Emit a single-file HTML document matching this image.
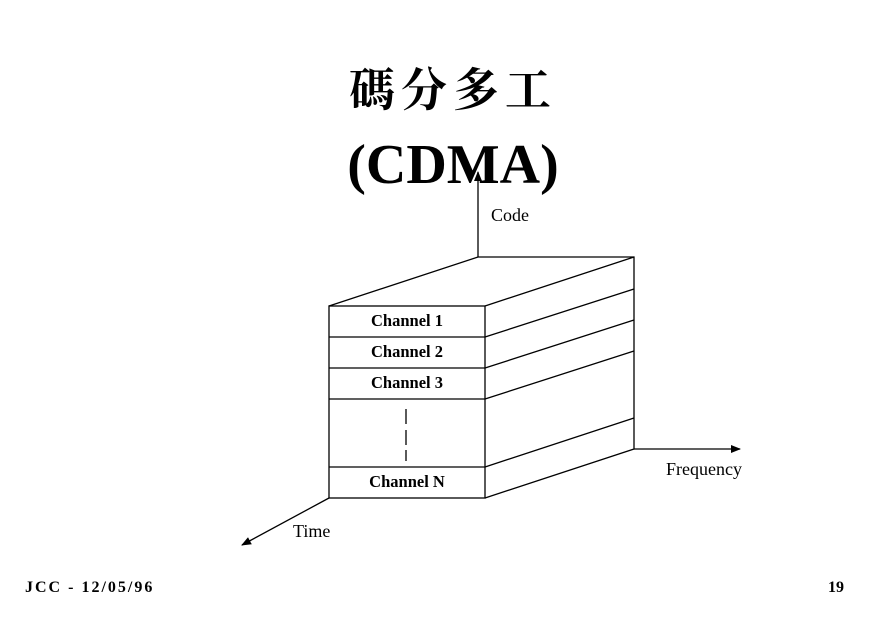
<!DOCTYPE html>
<html><head><meta charset="utf-8"><style>
body{margin:0;width:876px;height:637px;background:#fff;overflow:hidden}
svg{display:block}
</style></head><body>
<svg width="876" height="637" viewBox="0 0 876 637">
<defs><marker id="a" markerWidth="10" markerHeight="8" refX="9" refY="4" orient="auto" markerUnits="userSpaceOnUse"><path d="M0,0L10,4L0,8z" fill="#000"/></marker></defs>
<text x="453" y="106" text-anchor="middle" font-family="'Noto Serif CJK SC','Noto Sans CJK SC',serif" font-weight="bold" font-size="46" letter-spacing="6">碼分多工</text>
<text x="453" y="183" text-anchor="middle" font-family="'Liberation Serif',serif" font-weight="bold" font-size="56">(CDMA)</text>
<g stroke="#000" stroke-width="1.3" fill="none">
<line x1="478" y1="257" x2="478" y2="172" marker-end="url(#a)"/>
<line x1="634" y1="449" x2="740" y2="449" marker-end="url(#a)"/>
<line x1="329" y1="498" x2="242" y2="545" marker-end="url(#a)"/>
<rect x="329" y="306" width="156" height="192" fill="#fff"/>
<line x1="329" y1="337" x2="485" y2="337"/><line x1="329" y1="368" x2="485" y2="368"/>
<line x1="329" y1="399" x2="485" y2="399"/><line x1="329" y1="467" x2="485" y2="467"/>
<polyline points="329,306 478,257 634,257 634,449 485,498"/>
<line x1="485" y1="306" x2="634" y2="257"/>
<line x1="485" y1="337" x2="634" y2="289"/>
<line x1="485" y1="368" x2="634" y2="320"/>
<line x1="485" y1="399" x2="634" y2="351"/>
<line x1="485" y1="467" x2="634" y2="418"/>
<line x1="406" y1="409" x2="406" y2="424"/><line x1="406" y1="430" x2="406" y2="445"/><line x1="406" y1="450" x2="406" y2="461"/>
</g>
<g font-family="'Liberation Serif',serif" font-size="16.5" font-weight="bold" text-anchor="middle">
<text x="407" y="326">Channel 1</text><text x="407" y="357">Channel 2</text><text x="407" y="388">Channel 3</text><text x="407" y="487">Channel N</text>
</g>
<g font-family="'Liberation Serif',serif" font-size="18">
<text x="491" y="221">Code</text><text x="666" y="475">Frequency</text><text x="293" y="537">Time</text>
</g>
<text x="25" y="592" font-family="'Liberation Serif',serif" font-weight="bold" font-size="16" letter-spacing="2">JCC - 12/05/96</text>
<text x="828" y="592" font-family="'Liberation Serif',serif" font-weight="bold" font-size="16">19</text>
</svg>
</body></html>
